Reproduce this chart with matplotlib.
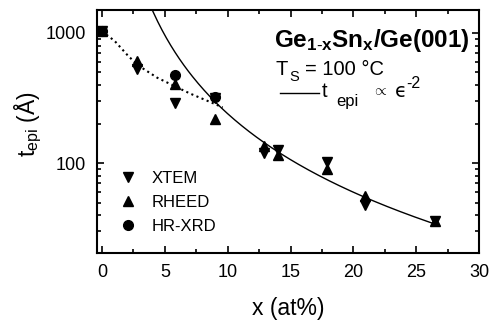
import matplotlib
matplotlib.use("Agg")
import matplotlib.pyplot as plt
from matplotlib.lines import Line2D
import numpy as np

plt.rcParams['font.family'] = ['Liberation Sans', 'DejaVu Sans']
plt.rcParams['mathtext.fontset'] = 'custom'
plt.rcParams['mathtext.rm'] = 'Liberation Sans'
plt.rcParams['mathtext.it'] = 'Liberation Sans'
plt.rcParams['mathtext.bf'] = 'Liberation Sans:bold'

# Data
xtem_x = [0, 2.8, 5.8, 9.0, 12.9, 14.0, 17.9, 20.9, 26.5]
xtem_y = [1030, 531, 292, 315, 120, 127, 103, 48, 36]
rheed_x = [0, 2.8, 5.8, 9.0, 12.9, 14.0, 17.9, 20.9, 26.5]
rheed_y = [1040, 612, 408, 220, 135, 115, 91, 56, 36]
xrd_x = [0, 5.8, 9.0]
xrd_y = [1035, 472, 325]

# dotted guide-to-eye curve
guide_x = [0, 1.0, 2.0, 2.8, 4.4, 5.8, 7.0, 8.8, 9.6]
guide_y = [1030, 869, 680, 570, 453, 390, 343, 290, 268]

# solid fit t_epi = C * x^-2
fit_C = 24000
fit_x = np.linspace(3.5, 26.5, 200)
fit_y = fit_C * fit_x ** -2.0

fig = plt.figure(figsize=(4.91, 3.26), dpi=100)
ax = fig.add_axes([97/491, 1-253/326, (479-97)/491, (253-10)/326])

ax.plot(fit_x, fit_y, '-', color='black', lw=1.0)
ax.plot(guide_x, guide_y, ':', color='black', lw=1.5)

ms = 7
ax.plot(xtem_x, xtem_y, 'v', color='black', ms=ms, ls='none')
ax.plot(rheed_x, rheed_y, '^', color='black', ms=ms, ls='none')
ax.plot(xrd_x, xrd_y, 'o', color='black', ms=ms, ls='none')

ax.set_yscale('log')
ax.set_xlim(-0.4, 30)
ax.set_ylim(20.5, 1500)
ax.set_xticks([0, 5, 10, 15, 20, 25, 30])
ax.set_xticks(np.arange(2.5, 30, 5), minor=True)
ax.set_yticks([100, 1000])
ax.set_yticklabels(['100', '1000'])
ax.tick_params(which='both', direction='in', top=True, right=True, width=1.2)
ax.tick_params(which='major', length=5, labelsize=13, pad=8)
ax.tick_params(which='minor', length=3)
for s in ax.spines.values():
    s.set_linewidth(1.5)

ax.set_xlabel('x (at%)', fontsize=16.5)
ax.xaxis.set_label_coords(0.5, -0.18)
ax.set_ylabel(r'$\rm t_{epi}$ (Å)', fontsize=16.5)
ax.yaxis.set_label_coords(-0.14, 0.53)

# annotations
def px(x, y):
    return x / 491, 1 - y / 326

fig.text(*px(274, 47), r'$\mathbf{Ge_{1\text{-}x}Sn_x/Ge(001)}$', fontsize=17.5,
         va='baseline')
fig.text(*px(275, 75), 'T', fontsize=14.5, va='baseline')
fig.text(*px(289, 81), 'S', fontsize=10.5, va='baseline')
fig.text(*px(305, 75), '= 100 °C', fontsize=14.5, va='baseline')
fig.add_artist(Line2D([280/491, 319/491], [1-93/326, 1-93/326], color='black', lw=1.0))
fig.text(*px(322, 97), 't', fontsize=14.5, va='baseline')
fig.text(*px(336, 106), 'epi', fontsize=12, va='baseline')
fig.text(*px(372, 95), r'$\propto$', fontsize=11, va='baseline')
fig.text(*px(395, 97), 'ϵ', fontsize=14, va='baseline',
         family=['DejaVu Sans'])
fig.text(*px(406, 88), '-2', fontsize=11.5, va='baseline')

handles = [Line2D([], [], marker='v', color='black', ls='none', ms=ms),
           Line2D([], [], marker='^', color='black', ls='none', ms=ms),
           Line2D([], [], marker='o', color='black', ls='none', ms=ms)]
ax.legend(handles, ['XTEM', 'RHEED', 'HR-XRD'], loc='upper left',
          bbox_to_anchor=(0.02, 0.40), frameon=False, fontsize=12,
          handletextpad=0.9, labelspacing=0.55, handlelength=1.0)

fig.savefig('out.png', dpi=100)
